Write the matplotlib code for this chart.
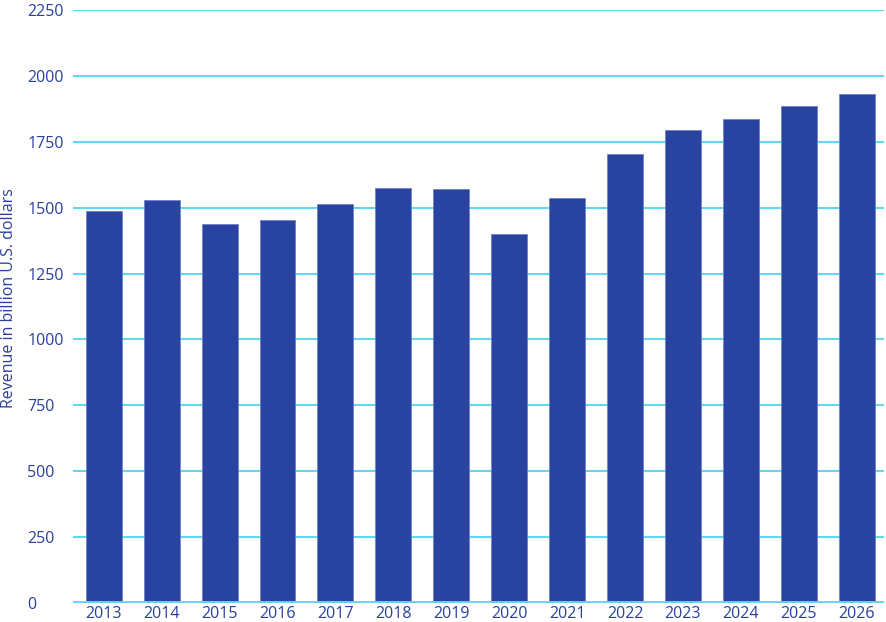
import numpy as np
import matplotlib.pyplot as plt

# datos
years = ["2013", "2014", "2015", "2016", "2017", "2018", "2019",
         "2020", "2021", "2022", "2023", "2024", "2025", "2026"]
revenue = [1488, 1529, 1437, 1453, 1513, 1573, 1569,
           1399, 1537, 1704, 1793, 1836, 1887, 1933]
y_ticks = [0, 250, 500, 750, 1000, 1250, 1500, 1750, 2000, 2250]

bar_color = "#2843a0"
grid_color = "#62d6f2"
text_color = "#2a3f9e"

plt.rcParams['font.family'] = ['Open Sans', 'DejaVu Sans']

fig = plt.figure(figsize=(8.86, 6.22), dpi=100)
ax = fig.add_axes([73/886, 1 - 603/622, (884 - 73)/886, (603 - 10)/622])

x = np.arange(len(years))
ax.bar(x, revenue, width=0.62, color=bar_color, edgecolor="#6f82c4",
       linewidth=0.6, zorder=3)

# rejilla
for t in y_ticks[1:]:
    ax.axhline(t, color=grid_color, linewidth=1.5, zorder=1)
ax.axhline(0, color=grid_color, linewidth=2.8, zorder=4)

ax.set_xlim(-0.53, 13.47)
ax.set_ylim(0, 2250)

for s in ax.spines.values():
    s.set_visible(False)

ax.set_xticks(x)
ax.set_xticklabels(years, fontsize=11.5, color=text_color)
ax.set_yticks(y_ticks)
ax.set_yticklabels([str(t) for t in y_ticks], fontsize=11.5, color=text_color,
                   ha="left")
ax.tick_params(axis="both", length=0)
ax.tick_params(axis="y", pad=33)
ax.tick_params(axis="x", pad=2.5)

fig.text(9/886, 1 - 298/622, "Revenue in billion U.S. dollars", rotation=90,
         ha="center", va="center", fontsize=11.5, color=text_color)

fig.savefig("out.png", dpi=100)
